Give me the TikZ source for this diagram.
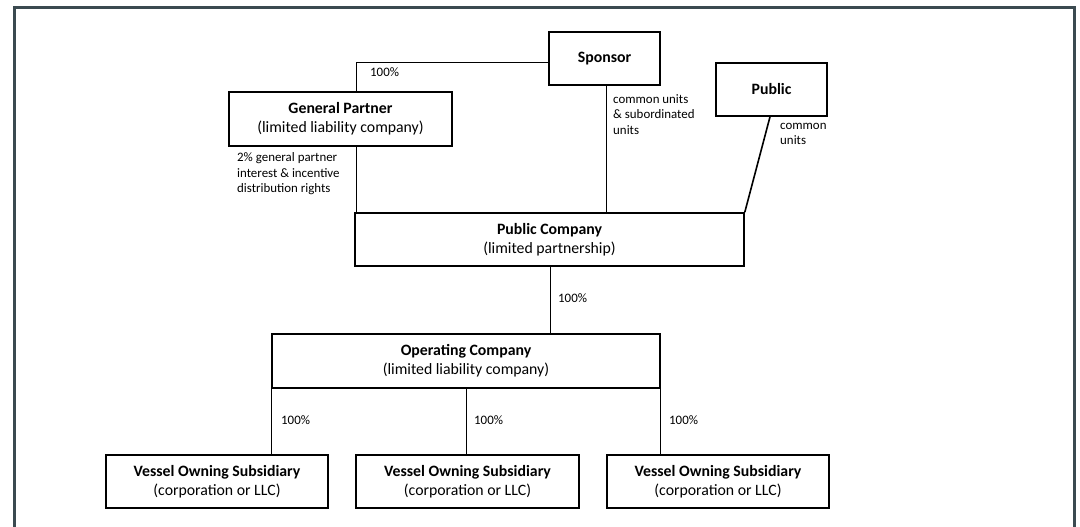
\documentclass[tikz,border=0pt]{standalone}
\usepackage{fontspec}
\setmainfont{Carlito}
\definecolor{framec}{HTML}{3B4A50}
\begin{document}
\begin{tikzpicture}[x=1pt,y=-1pt,
  box/.style={draw, line width=1.6pt, rectangle, inner sep=0pt, align=center,
    font=\fontsize{15.8}{19}\selectfont},
  conn/.style={line width=0.9pt},
  lbl/.style={anchor=west, inner sep=0pt, align=left, font=\fontsize{12.9}{15.4}\selectfont}]
\useasboundingbox (0,0) rectangle (1080,527);
\fill[white] (0,0) rectangle (1080,527);
\draw[framec, line width=3pt] (14.5,540) -- (14.5,7.5) -- (1074.5,7.5) -- (1074.5,540);

\node[box, minimum width=223pt, minimum height=54pt] (gp) at (340.5,119) {\textbf{General Partner}\\(limited liability company)};
\node[box, minimum width=111pt, minimum height=53pt] (sp) at (604.5,58.5) {\textbf{Sponsor}};
\node[box, minimum width=111pt, minimum height=53pt] (pu) at (771.5,89.5) {\textbf{Public}};
\node[box, minimum width=389pt, minimum height=53pt] (pc) at (549.5,239.5) {\textbf{Public Company}\\(limited partnership)};
\node[box, minimum width=388pt, minimum height=54pt] (oc) at (466,361) {\textbf{Operating Company}\\(limited liability company)};
\node[box, minimum width=222pt, minimum height=53pt] (v1) at (217,481.5) {\textbf{Vessel Owning Subsidiary}\\(corporation or LLC)};
\node[box, minimum width=223pt, minimum height=53pt] (v2) at (467.5,481.5) {\textbf{Vessel Owning Subsidiary}\\(corporation or LLC)};
\node[box, minimum width=222pt, minimum height=53pt] (v3) at (718,481.5) {\textbf{Vessel Owning Subsidiary}\\(corporation or LLC)};

\coordinate (j1) at (356,62);
\draw[conn] (sp.west |- j1) -- (j1) -- (j1 |- gp.north);
\draw[conn] (j1 |- gp.south) -- (j1 |- pc.north);
\coordinate (j2) at (606,0);
\draw[conn] (j2 |- sp.south) -- (j2 |- pc.north);
\coordinate (j3) at (770,0);
\draw[line width=1.6pt] (j3 |- pu.south) -- (pc.north east);
\coordinate (j4) at (550,0);
\draw[conn] (j4 |- pc.south) -- (j4 |- oc.north);
\draw[conn] (oc.south west) -- (oc.south west |- v1.north);
\coordinate (j5) at (466,0);
\draw[conn] (j5 |- oc.south) -- (j5 |- v2.north);
\draw[conn] (oc.south east) -- (oc.south east |- v3.north);

\node[lbl] (l1) at (370,72) {100\%};
\node[lbl, anchor=north west] (l2) at (237,152.5) {2\% general partner\\interest \& incentive\\distribution rights};
\node[lbl, anchor=north west] (l3) at (613,94.5) {common units\\\& subordinated\\units};
\node[lbl, anchor=north west] (l4) at (780,123) {common\\units};
\node[lbl] (l5) at (558,298) {100\%};
\node[lbl] (l6) at (281,420) {100\%};
\node[lbl] (l7) at (474,420) {100\%};
\node[lbl] (l8) at (669,420) {100\%};
\end{tikzpicture}
\end{document}
